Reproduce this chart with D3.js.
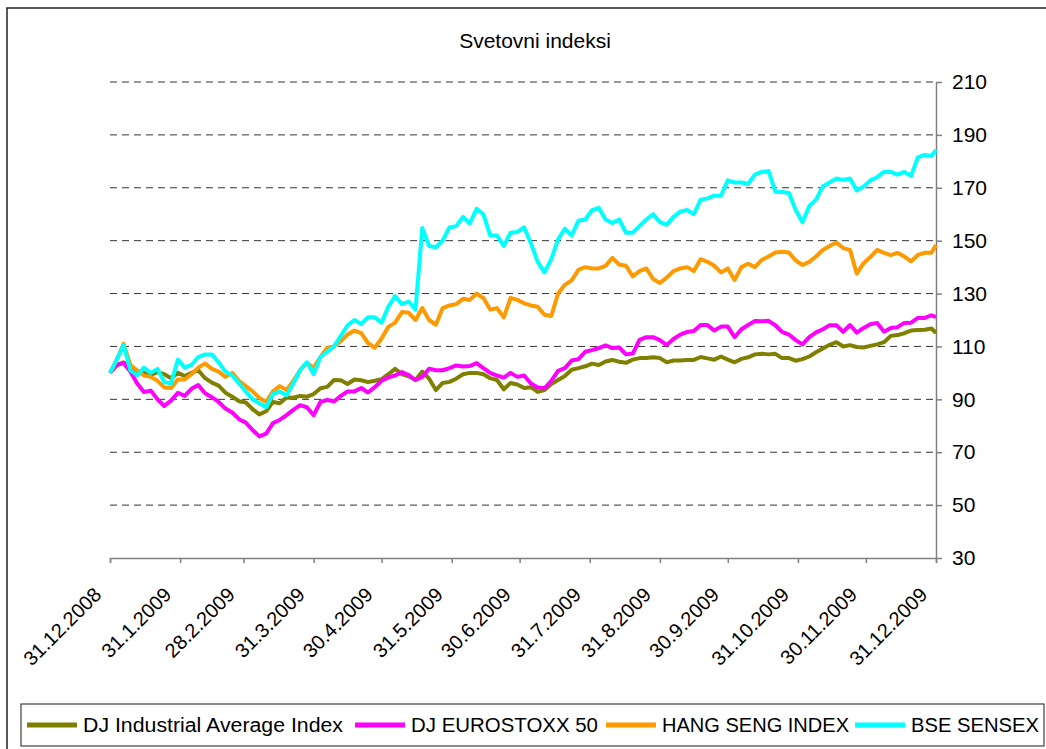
<!DOCTYPE html>
<html>
<head>
<meta charset="utf-8">
<script src="https://cdn.jsdelivr.net/npm/d3@7"></script>
<style>
  body { margin: 0; background: #fff; }
  svg { display: block; font-family: "Liberation Sans", Arial, sans-serif; }
</style>
</head>
<body>
<svg id="chart" width="1046" height="749"></svg>
<script>
// vzorci vsake 3 dni od 31.12.2008 do 31.12.2009
const parse = d3.utcParse("%Y-%m-%d");
const startDate = parse("2008-12-31");
const endDate = parse("2009-12-31");
const sampleDates = d3.utcDay.range(startDate, endDate, 3).concat([endDate]);

const tickDates = ["2008-12-31", "2009-01-31", "2009-02-28", "2009-03-31", "2009-04-30", "2009-05-31",
  "2009-06-30", "2009-07-31", "2009-08-31", "2009-09-30", "2009-10-31", "2009-11-30", "2009-12-31"].map(parse);
const tickLabels = ["31.12.2008", "31.1.2009", "28.2.2009", "31.3.2009", "30.4.2009", "31.5.2009",
  "30.6.2009", "31.7.2009", "31.8.2009", "30.9.2009", "31.10.2009", "30.11.2009", "31.12.2009"];
const yTicks = [30, 50, 70, 90, 110, 130, 150, 170, 190, 210];

const seriesNames = ["DJ Industrial Average Index", "DJ EUROSTOXX 50", "HANG SENG INDEX", "BSE SENSEX"];
const seriesColors = ["#808000", "#ff00ff", "#ff9900", "#00ffff"];

const djia = [100,103,104,102,100.5,100,99.2,100.3,99.5,98,
  100,98.8,100,101,98,96.3,95.2,92.5,91,89.3,
  88.8,86.3,84.3,85.5,89,88.5,90.7,90.6,91.3,91,
  92,94.2,94.7,97.3,97.2,95.8,97.5,97.2,96.5,97,
  97.6,99.5,101.5,99.5,98.7,97.3,100.5,97.8,93.5,96.2,
  96.6,97.8,99.5,100,100,99.5,98,97.3,93.8,96.2,
  95.6,94.3,94.6,92.8,93.5,95.8,97.3,98.8,101.2,101.8,
  102.5,103.5,103,104.3,104.9,104.2,103.8,105,105.6,105.6,
  105.9,105.6,104,104.7,104.7,104.9,104.9,106,105.5,105,
  106.2,105,104,105.3,105.9,107,107.2,107,107.2,105.6,
  105.6,104.6,105.2,106.2,107.8,109.2,110.6,111.6,110,110.5,
  109.8,109.6,110.2,110.8,111.6,114,114.3,115,116,116.2,
  116.3,116.8,115.1];

const eurostoxx = [100,103,103.7,100.5,96,92.8,93.3,90,87.5,89.5,
  92.5,91.3,94,95.4,92.3,90.8,89,86.5,85,82.5,
  81.2,78.4,76,77,81,82.2,84,86,87.8,87,
  84,89,89.8,89.2,91.3,93,93,94.3,92.6,94.6,
  97,98.3,99,100.3,99.2,97.3,98.5,101.6,101,101,
  101.8,102.8,102.4,102.6,103.7,101.8,100,99,98.2,100,
  98.5,99,96,94.5,94.2,97,100.8,101.8,104.7,105.2,
  108,108.6,109.4,110.4,109.4,109.6,107,107.3,112.5,113.5,
  113.5,112.4,110.5,112.8,114.5,115.5,115.8,118.1,118.1,116,
  117.5,117.5,113.5,116.5,118.1,119.6,119.5,119.7,118,115.5,
  114.5,112.4,110.8,113.5,115.3,116.5,118,118,115.5,118.1,
  115.2,117,118.4,118.9,115.6,117,117.3,118.9,119,120.8,
  120.8,121.8,121.1];

const hangSeng = [100,105,111,103,101,99,98.5,97,94.5,94.3,
  97.5,97.5,99.5,102,103.5,101.5,100.5,98.5,100,97,
  95,93,90.5,89,93,95,93.5,97,101,103.7,
  102,106,109.5,110,112,114.5,116,115,111.3,109.5,
  113,117.4,119,123,122.7,120,124.5,120,118.2,124.5,
  125.5,126,128,127.6,130,128.3,124,124.5,121,128.3,
  127.6,126.3,125.5,125,122,121.5,130,133.3,135,139,
  140,139.5,139.5,140.5,143.5,141,140.5,136.5,138.5,139.5,
  135.5,134,136,138.5,139.5,140,138.5,143,142,140.5,
  138,139.5,135.1,140,141.3,140,142.7,144,145.5,145.8,
  145.5,142.5,140.8,142,144,146.5,148,149.3,147.2,146.5,
  137.5,141.5,143.8,146.5,145.4,144.5,145.4,144,142.2,144.6,
  145.4,145.4,148.4];

const sensex = [100,105,110.5,101,99,102,100,101.5,96.5,96,
  105,102,103,106,107,107,104,100.5,99,96,
  93,90,88.5,87,92,93,91.5,96,101,104,
  99.5,106,108,110,114,118,120,118.5,121,121,
  119,125,129,126,127,124,154.8,148,147.5,150,
  155,155.5,159,156.5,162,160,152,152,148,153,
  153.3,155,149,142,138,143,150.5,154.5,152,157.5,
  158,161.5,162.4,158,156.7,158,153,153,155.5,158,
  160,157,156,159,161,161.6,160,165.5,166,167,
  167,172.8,172,172,171.5,175,176,176.3,168.5,168.4,
  168,161.6,157,163,165.5,170.5,172,173.5,173,173.5,
  169,170.5,172.8,174,176,176,175,176,174.5,181.5,
  182.4,182,184.3];

const seriesValues = [djia, eurostoxx, hangSeng, sensex];

const svg = d3.select("#chart");
const plotLeft = 110, plotRight = 936, plotTop = 82, plotBottom = 558;

const x = d3.scaleUtc().domain([startDate, endDate]).range([plotLeft, plotRight]);
const y = d3.scaleLinear().domain([30, 210]).range([plotBottom, plotTop]);

// okvir
svg.append("rect").attr("x", 7).attr("y", 8).attr("width", 1100).attr("height", 800)
  .attr("fill", "#fff").attr("stroke", "#222").attr("stroke-width", 1.5);

// naslov
svg.append("text").text("Svetovni indeksi")
  .attr("x", 535).attr("y", 48).attr("text-anchor", "middle")
  .attr("font-size", 21).attr("fill", "#000");

// mreza
svg.append("g").selectAll("line")
  .data(yTicks.filter(d => d > 30))
  .enter().append("line")
  .attr("x1", plotLeft).attr("x2", plotRight)
  .attr("y1", d => y(d)).attr("y2", d => y(d))
  .attr("stroke", "#333").attr("stroke-width", 1)
  .attr("stroke-dasharray", "7,5");

// os x
const xAxis = svg.append("g")
  .attr("transform", `translate(0,${plotBottom})`)
  .call(d3.axisBottom(x).tickValues(tickDates).tickSize(5)
    .tickFormat((d, i) => tickLabels[i]));
xAxis.select(".domain").attr("stroke", "#808080").attr("stroke-width", 1.5);
xAxis.selectAll(".tick line").attr("stroke", "#808080").attr("stroke-width", 1.5);
xAxis.selectAll(".tick text")
  .attr("x", 0).attr("y", 0).attr("dy", 0)
  .attr("text-anchor", "end")
  .attr("transform", "translate(-8,38) rotate(-45)")
  .attr("font-size", 20).attr("font-family", "Liberation Sans, Arial, sans-serif")
  .attr("fill", "#000");

// os y (desno)
const yAxis = svg.append("g")
  .attr("transform", `translate(${plotRight},0)`)
  .call(d3.axisRight(y).tickValues(yTicks).tickSize(6).tickPadding(10).tickSizeOuter(0));
yAxis.select(".domain").attr("stroke", "#808080").attr("stroke-width", 1.5);
yAxis.selectAll(".tick line").attr("stroke", "#808080").attr("stroke-width", 1.5);
yAxis.selectAll(".tick text")
  .attr("font-size", 21).attr("font-family", "Liberation Sans, Arial, sans-serif")
  .attr("fill", "#000");

// crte
const line = d3.line()
  .x((d, i) => x(sampleDates[i]))
  .y(d => y(d));

svg.append("g").selectAll("path")
  .data(seriesValues)
  .enter().append("path")
  .attr("d", d => line(d))
  .attr("fill", "none")
  .attr("stroke", (d, i) => seriesColors[i])
  .attr("stroke-width", 4)
  .attr("stroke-linejoin", "round");

// legenda
svg.append("rect").attr("x", 21).attr("y", 704).attr("width", 1023).attr("height", 42)
  .attr("fill", "#fff").attr("stroke", "#404040").attr("stroke-width", 1.2);

const legendX = [27, 355, 606, 855];
const legendTextW = [260, 187, 187, 128];
seriesNames.forEach((name, i) => {
  svg.append("line")
    .attr("x1", legendX[i]).attr("x2", legendX[i] + 50).attr("y1", 725).attr("y2", 725)
    .attr("stroke", seriesColors[i]).attr("stroke-width", 5);
  svg.append("text").text(name)
    .attr("x", legendX[i] + 56).attr("y", 732)
    .attr("font-size", 20).attr("fill", "#000")
    .attr("textLength", legendTextW[i]).attr("lengthAdjust", "spacingAndGlyphs");
});
</script>
</body>
</html>
